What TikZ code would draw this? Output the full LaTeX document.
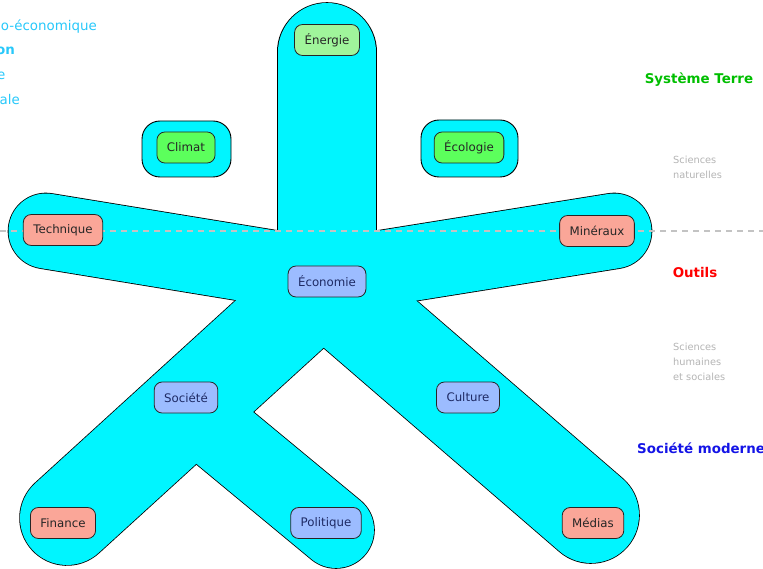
\documentclass[tikz,border=0pt]{standalone}
\usepackage{fontspec}
\setmainfont{DejaVu Sans}
\definecolor{armcyan}{RGB}{0,245,255}
\definecolor{salmonc}{RGB}{250,166,152}
\definecolor{bluec}{RGB}{156,188,255}
\definecolor{lgreen}{RGB}{160,245,155}
\definecolor{vgreen}{RGB}{92,255,92}
\definecolor{navyt}{RGB}{30,42,100}
\definecolor{skyt}{RGB}{40,200,250}
\definecolor{earthg}{RGB}{0,190,0}
\definecolor{toolr}{RGB}{255,0,0}
\definecolor{socb}{RGB}{20,20,230}
\definecolor{graytxt}{RGB}{180,180,180}
\definecolor{dashg}{RGB}{195,195,195}
\tikzset{
  box/.style={draw=black!85, line width=0.8pt, rounded corners=8pt,
    minimum height=31pt, inner xsep=10pt, inner ysep=0pt,
    font=\fontsize{11.8}{14}\selectfont},
  salmonbox/.style={box, fill=salmonc, text=black!85},
  bluebox/.style={box, fill=bluec, text=navyt},
  greenbox/.style={box, fill=vgreen, text=black!85},
  lgreenbox/.style={box, fill=lgreen, text=black!85},
  holder/.style={draw=black, line width=0.9pt, fill=armcyan, rounded corners=18pt},
  armout/.style={draw=black, line cap=round},
  armin/.style={draw=armcyan, line cap=round},
  heading/.style={font=\fontsize{13.4}{16}\selectfont\bfseries, inner sep=0pt},
  sidetxt/.style={font=\fontsize{13.4}{16}\selectfont, text=skyt, inner sep=0pt, anchor=east},
  note/.style={font=\fontsize{9.8}{15}\selectfont, text=graytxt, align=left, inner sep=0pt, anchor=west},
  dashline/.style={draw=dashg, line width=1.4pt, dash pattern=on 6pt off 5pt}
}
\begin{document}
\begin{tikzpicture}[x=1pt,y=-1pt]
\useasboundingbox (0,0) rectangle (763,569);
\clip (0,0) rectangle (763,569);
% arm coordinates
\coordinate (hub) at (327,281);
\coordinate (hubT) at (327,277);
\coordinate (hubC) at (327,287);
\coordinate (capE) at (327,52);
\coordinate (capT) at (46,231);
\coordinate (capM) at (614,231);
\coordinate (capF) at (67,518);
\coordinate (capMe) at (591,515);
\coordinate (sP) at (185,405);
\coordinate (capP) at (336,530);
% black outline layer
\draw[armout, line width=99.6pt] (capE) -- (hub);
\draw[armout, line width=76.6pt] (capT) -- (hubT);
\draw[armout, line width=76.6pt] (capM) -- (hubT);
\draw[armout, line width=95.6pt] (capF) -- (hub);
\draw[armout, line width=97.6pt] (capMe) -- (hubC);
\draw[armout, line width=77.6pt] (capP) -- (sP);
% cyan layer
\draw[armin, line width=98pt] (capE) -- (hub);
\draw[armin, line width=75pt] (capT) -- (hubT);
\draw[armin, line width=75pt] (capM) -- (hubT);
\draw[armin, line width=94pt] (capF) -- (hub);
\draw[armin, line width=96pt] (capMe) -- (hubC);
\draw[armin, line width=76pt] (capP) -- (sP);
% separate holders
\node[holder, minimum width=89pt, minimum height=56pt] (climbg) at (186.5,149) {};
\node[holder, minimum width=97pt, minimum height=57pt] (ecolbg) at (469.5,148.5) {};
% dashed line
\coordinate (dL) at (0,231);
\coordinate (dR) at (763,231);
\draw[dashline] (dL) -- (dR);
% nodes
\node[lgreenbox] (energie) at (327,40) {Énergie};
\node[greenbox] (climat) at (186,147.5) {Climat};
\node[greenbox] (ecologie) at (469,147.5) {Écologie};
\node[salmonbox] (technique) at (63,230) {Technique};
\node[salmonbox] (mineraux) at (597,231) {Minéraux};
\node[bluebox] (economie) at (327,281.5) {Économie};
\node[bluebox] (societe) at (186,397.5) {Société};
\node[bluebox] (culture) at (468,397.5) {Culture};
\node[salmonbox] (finance) at (63,523) {Finance};
\node[bluebox] (politique) at (326,523) {Politique};
\node[salmonbox] (medias) at (593,523) {Médias};
% right-side labels
\node[heading, text=earthg] (terre) at (699,80) {Système Terre};
\node[heading, text=toolr] (outils) at (695,272.5) {Outils};
\node[heading, text=socb, anchor=west] (moderne) at (637,448) {Société moderne};
\node[note] (natur) at (673,167.5) {Sciences\\naturelles};
\node[note] (hum) at (673,362) {Sciences\\humaines\\et sociales};
% left-side (cut) legend
\node[sidetxt] (l1) at (97,27) {o-économique};
\node[sidetxt, font=\fontsize{13.4}{16}\selectfont\bfseries] (l2) at (15,51) {on};
\node[sidetxt] (l3) at (5.5,76) {e};
\node[sidetxt] (l4) at (20,100) {ale};
\end{tikzpicture}
\end{document}
